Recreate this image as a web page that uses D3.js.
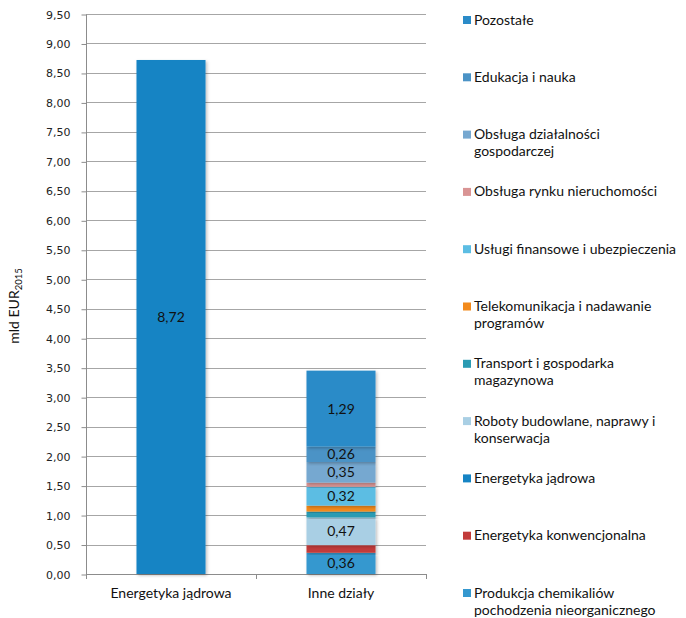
<!DOCTYPE html>
<html><head><meta charset="utf-8">
<script src="https://cdn.jsdelivr.net/npm/d3@7"></script>
<style>body{margin:0;background:#fff}svg{display:block}</style>
</head><body>
<svg id="c" width="686" height="618"></svg>
<script>
const categories = ["Energetyka jądrowa", "Inne działy"];
// series listed in legend order (top to bottom)
const seriesNames = [
  "Pozostałe",
  "Edukacja i nauka",
  "Obsługa działalności\ngospodarczej",
  "Obsługa rynku nieruchomości",
  "Usługi finansowe i ubezpieczenia",
  "Telekomunikacja i nadawanie\nprogramów",
  "Transport i gospodarka\nmagazynowa",
  "Roboty budowlane, naprawy i\nkonserwacja",
  "Energetyka jądrowa",
  "Energetyka konwencjonalna",
  "Produkcja chemikaliów\npochodzenia nieorganicznego"
];
const valuesEnergetyka = [0, 0, 0, 0, 0, 0, 0, 0, 8.72, 0, 0];
const valuesInne =       [1.29, 0.26, 0.35, 0.07, 0.32, 0.10, 0.10, 0.47, 0, 0.13, 0.36];
const labelShown =       [true, true, true, false, true, false, false, true, true, false, true];
const seriesColors = ["#2a8bc8", "#4b93c6", "#76a8d0", "#d99494", "#5cbde3", "#f28a1c",
                      "#2a9bb3", "#a9cfe4", "#1684c4", "#c23b3a", "#3598cf"];
const yTicks = [0,0.5,1,1.5,2,2.5,3,3.5,4,4.5,5,5.5,6,6.5,7,7.5,8,8.5,9,9.5];
const yTitle = "mld EUR", yTitleSub = "2015";

const svg = d3.select("#c");
const pLeft = 86, pRight = 426, pTop = 14, pBottom = 574;

const x = d3.scaleBand().domain(categories).range([pLeft, pRight]).paddingInner(0.594).paddingOuter(0.297);
const y = d3.scaleLinear().domain([0, 9.5]).range([pBottom, pTop]);

const defs = svg.append("defs");
const f = defs.append("filter").attr("id","sh").attr("x","-20%").attr("y","-20%").attr("width","140%").attr("height","140%");
f.append("feDropShadow").attr("dx",1.5).attr("dy",1.5).attr("stdDeviation",1.5).attr("flood-color","#000").attr("flood-opacity",0.25);

// gridlines
svg.append("g").selectAll("line").data(yTicks.slice(1)).join("line")
  .attr("x1", pLeft).attr("x2", pRight)
  .attr("y1", d => Math.round(y(d)) + 0.5).attr("y2", d => Math.round(y(d)) + 0.5)
  .attr("stroke", "#a6a6a6").attr("stroke-width", 1);

// y axis
const yAxis = d3.axisLeft(y).tickValues(yTicks).tickSize(5).tickPadding(11)
  .tickFormat(d => d3.format(".2f")(d).replace(".", ","));
const ga = svg.append("g").attr("transform", `translate(${pLeft + 0.5},0.5)`).call(yAxis);
ga.select(".domain").attr("stroke", "#8c8c8c").attr("d", `M0,${pTop}V${pBottom}`);
ga.selectAll(".tick line").attr("stroke", "#8c8c8c");
ga.selectAll(".tick text").attr("font-family", "DejaVu Sans").attr("font-size", 11).attr("fill", "#222");

// x axis line and ticks
svg.append("line").attr("x1", pLeft).attr("x2", pRight).attr("y1", pBottom + 0.5).attr("y2", pBottom + 0.5).attr("stroke", "#8c8c8c");
const bounds = [pLeft, pLeft + x.step(), pRight];
svg.append("g").selectAll("line").data(bounds).join("line")
  .attr("x1", d => Math.round(d) + 0.5).attr("x2", d => Math.round(d) + 0.5)
  .attr("y1", pBottom).attr("y2", pBottom + 5).attr("stroke", "#8c8c8c");

// stacked data
const rows = categories.map((c, ci) => {
  const o = {cat: c};
  seriesNames.forEach((s, i) => { o[s] = ci === 0 ? valuesEnergetyka[i] : valuesInne[i]; });
  return o;
});
const stackOrder = seriesNames.slice().reverse();
const stacked = d3.stack().keys(stackOrder)(rows);

const gBars = svg.append("g");
stacked.forEach(layer => {
  const si = seriesNames.indexOf(layer.key);
  layer.forEach(d => {
    if (d[1] - d[0] <= 0) return;
    gBars.append("rect")
      .attr("x", x(d.data.cat)).attr("width", x.bandwidth())
      .attr("y", y(d[1])).attr("height", y(d[0]) - y(d[1]))
      .attr("fill", seriesColors[si]).attr("filter", "url(#sh)");
  });
});
// labels
stacked.forEach(layer => {
  const si = seriesNames.indexOf(layer.key);
  if (!labelShown[si]) return;
  layer.forEach(d => {
    const v = d[1] - d[0];
    if (v <= 0) return;
    svg.append("text")
      .attr("x", x(d.data.cat) + x.bandwidth() / 2)
      .attr("y", (y(d[0]) + y(d[1])) / 2 + 5)
      .attr("text-anchor", "middle").attr("font-family", "Lato").attr("font-size", 14).attr("fill", "#111")
      .text(d3.format(".2f")(v).replace(".", ","));
  });
});

// category labels
svg.append("g").selectAll("text").data(categories).join("text")
  .attr("x", d => x(d) + x.bandwidth() / 2).attr("y", 598)
  .attr("text-anchor", "middle").attr("font-family", "Lato").attr("font-size", 14).attr("fill", "#111")
  .text(d => d);

// y title
const yt = svg.append("text").attr("transform", "translate(19,306) rotate(-90)")
  .attr("text-anchor", "middle").attr("font-family", "Lato").attr("font-size", 14).attr("fill", "#111");
yt.append("tspan").text(yTitle);
yt.append("tspan").attr("font-size", 9.5).attr("dy", 3).text(yTitleSub);

// legend
const lg = svg.append("g");
seriesNames.forEach((s, i) => {
  const cy = 20 + i * 57.3;
  lg.append("rect").attr("x", 463).attr("y", cy - 4).attr("width", 8).attr("height", 8).attr("fill", seriesColors[i]);
  const t = lg.append("text").attr("font-family", "Lato").attr("font-size", 14).attr("fill", "#111");
  s.split("\n").forEach((line, li) => {
    t.append("tspan").attr("x", 474).attr("y", cy + 4.5 + li * 17).text(line);
  });
});
</script>
</body></html>
